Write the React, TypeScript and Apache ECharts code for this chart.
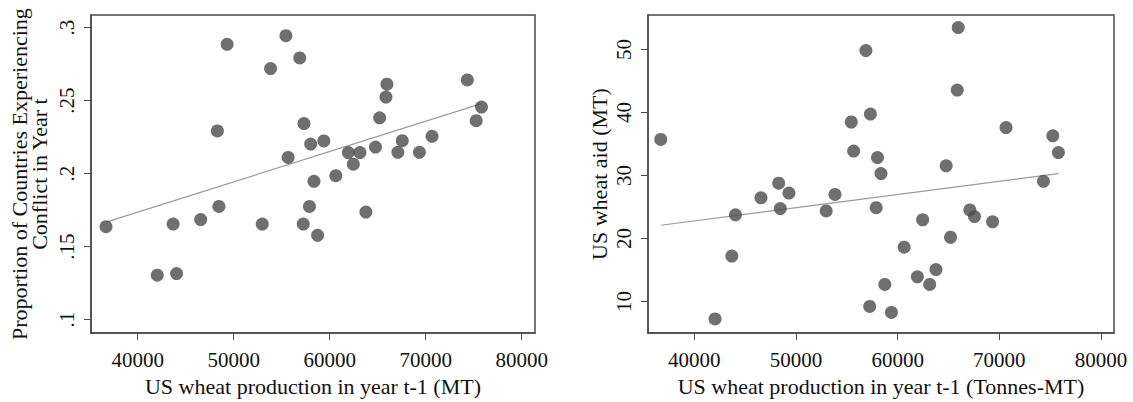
import React, { useEffect, useRef } from "react";
import * as echarts from "echarts";

// US wheat production in year t-1 (MT), one entry per year
const production = [
  36700, 42040, 43690, 44050, 46560, 48300, 48460, 49310, 52970, 53840,
  55440, 55670, 56880, 57250, 57320, 57890, 58020, 58360, 58740, 59390,
  60640, 61940, 62460, 63150, 63770, 64770, 65200, 65860, 65960, 67100,
  67560, 69340, 70660, 74340, 75260, 75810,
];

// Proportion of countries experiencing conflict in year t
const conflictShare = [
  0.1636, 0.1304, 0.1654, 0.1315, 0.1685, 0.2292, 0.1775, 0.2885, 0.1654, 0.2719,
  0.2944, 0.211, 0.2792, 0.1654, 0.2342, 0.1775, 0.2202, 0.1947, 0.1577, 0.2223,
  0.1985, 0.2144, 0.2064, 0.2144, 0.1736, 0.2181, 0.2382, 0.2524, 0.2612, 0.2145,
  0.2225, 0.2145, 0.2255, 0.2641, 0.2362, 0.2455,
];

// US wheat aid (MT)
const wheatAid = [
  35.73, 7.22, 17.22, 23.76, 26.47, 28.78, 24.75, 27.21, 24.38, 26.99,
  38.5, 33.89, 49.84, 9.22, 39.76, 24.9, 32.86, 30.31, 12.71, 8.27,
  18.63, 13.92, 22.97, 12.71, 15.07, 31.54, 20.2, 43.57, 53.5, 24.54,
  23.49, 22.66, 37.61, 29.09, 36.31, 33.64,
];

const xTicks = [40000, 50000, 60000, 70000, 80000];
const conflictTicks = [0.1, 0.15, 0.2, 0.25, 0.3];
const aidTicks = [10, 20, 30, 40, 50];

const FONT = "'Liberation Serif', 'Times New Roman', serif";
const AXIS_COLOR = "#4a4a4a";
const TEXT_COLOR = "#111";
const MARKER_COLOR = "#4b4b4b";
const FIT_COLOR = "#9a9a9a";
const TICK_FONT = 21;
const TITLE_FONT = 22;

function olsLine(xs: number[], ys: number[]): number[][] {
  const n = xs.length;
  const mx = xs.reduce((a, b) => a + b, 0) / n;
  const my = ys.reduce((a, b) => a + b, 0) / n;
  let sxy = 0;
  let sxx = 0;
  for (let i = 0; i < n; i++) {
    sxy += (xs[i] - mx) * (ys[i] - my);
    sxx += (xs[i] - mx) * (xs[i] - mx);
  }
  const b = sxy / sxx;
  const a = my - b * mx;
  const x0 = Math.min(...xs);
  const x1 = Math.max(...xs);
  return [
    [x0, a + b * x0],
    [x1, a + b * x1],
  ];
}

function xAxisCfg(gridIndex: number, min: number, max: number, name: string) {
  return {
    type: "value",
    gridIndex,
    min,
    max,
    splitLine: { show: false },
    axisLine: { show: true, onZero: false, lineStyle: { color: AXIS_COLOR, width: 1.5 } },
    axisTick: {
      show: true,
      customValues: xTicks,
      length: 7,
      lineStyle: { color: AXIS_COLOR, width: 1 },
    },
    axisLabel: {
      customValues: xTicks,
      fontFamily: FONT,
      fontSize: TICK_FONT,
      color: TEXT_COLOR,
      margin: 16,
      formatter: (v: number) => String(Math.round(v)),
    },
    name,
    nameLocation: "middle",
    nameGap: 38,
    nameTextStyle: { fontFamily: FONT, fontSize: TITLE_FONT, color: TEXT_COLOR },
  };
}

function yAxisCfg(
  gridIndex: number,
  min: number,
  max: number,
  ticks: number[],
  name: string,
  nameGap: number,
  fmt: (v: number) => string
) {
  return {
    type: "value",
    gridIndex,
    min,
    max,
    splitLine: { show: false },
    axisLine: { show: true, onZero: false, lineStyle: { color: AXIS_COLOR, width: 1.5 } },
    axisTick: {
      show: true,
      customValues: ticks,
      length: 7,
      lineStyle: { color: AXIS_COLOR, width: 1 },
    },
    axisLabel: {
      customValues: ticks,
      rotate: 90,
      fontFamily: FONT,
      fontSize: TICK_FONT,
      color: TEXT_COLOR,
      margin: 14,
      formatter: fmt,
    },
    name,
    nameLocation: "middle",
    nameRotate: 90,
    nameGap,
    nameTextStyle: { fontFamily: FONT, fontSize: TITLE_FONT, color: TEXT_COLOR, lineHeight: 20 },
  };
}

export default function App() {
  const ref = useRef<HTMLDivElement>(null);

  useEffect(() => {
    if (!ref.current) return;
    const chart = echarts.init(ref.current, null, { renderer: "svg" });

    const left = production.map((x, i) => [x, conflictShare[i]]);
    const right = production.map((x, i) => [x, wheatAid[i]]);

    chart.setOption({
      animation: false,
      backgroundColor: "#fff",
      grid: [
        {
          left: 91,
          top: 15,
          width: 444,
          height: 322,
          show: true,
          borderColor: AXIS_COLOR,
          borderWidth: 1.5,
          backgroundColor: "#fff",
        },
        {
          left: 648,
          top: 15,
          width: 466,
          height: 322,
          show: true,
          borderColor: AXIS_COLOR,
          borderWidth: 1.5,
          backgroundColor: "#fff",
        },
      ],
      xAxis: [
        xAxisCfg(0, 35135, 81385, "US wheat production in year t-1 (MT)"),
        xAxisCfg(1, 35447, 81279, "US wheat production in year t-1 (Tonnes-MT)"),
      ],
      yAxis: [
        yAxisCfg(
          0,
          0.0907,
          0.3086,
          conflictTicks,
          "Proportion of Countries Experiencing\nConflict in Year t",
          42,
          (v: number) => String(v).replace(/^0\./, ".")
        ),
        yAxisCfg(1, 4.98, 55.49, aidTicks, "US wheat aid (MT)", 39, (v: number) => String(v)),
      ],
      series: [
        {
          type: "line",
          xAxisIndex: 0,
          yAxisIndex: 0,
          data: olsLine(production, conflictShare),
          showSymbol: false,
          symbol: "none",
          lineStyle: { color: FIT_COLOR, width: 1.2 },
          z: 1,
        },
        {
          type: "scatter",
          xAxisIndex: 0,
          yAxisIndex: 0,
          data: left,
          symbol: "circle",
          symbolSize: 13,
          itemStyle: { color: MARKER_COLOR },
          z: 2,
        },
        {
          type: "line",
          xAxisIndex: 1,
          yAxisIndex: 1,
          data: olsLine(production, wheatAid),
          showSymbol: false,
          symbol: "none",
          lineStyle: { color: FIT_COLOR, width: 1.2 },
          z: 1,
        },
        {
          type: "scatter",
          xAxisIndex: 1,
          yAxisIndex: 1,
          data: right,
          symbol: "circle",
          symbolSize: 13,
          itemStyle: { color: MARKER_COLOR },
          z: 2,
        },
      ],
    });

    return () => {
      chart.dispose();
    };
  }, []);

  return (
    <div
      ref={ref}
      style={{ position: "absolute", left: 0, top: 0, width: 1133, height: 402, background: "#fff" }}
    />
  );
}
